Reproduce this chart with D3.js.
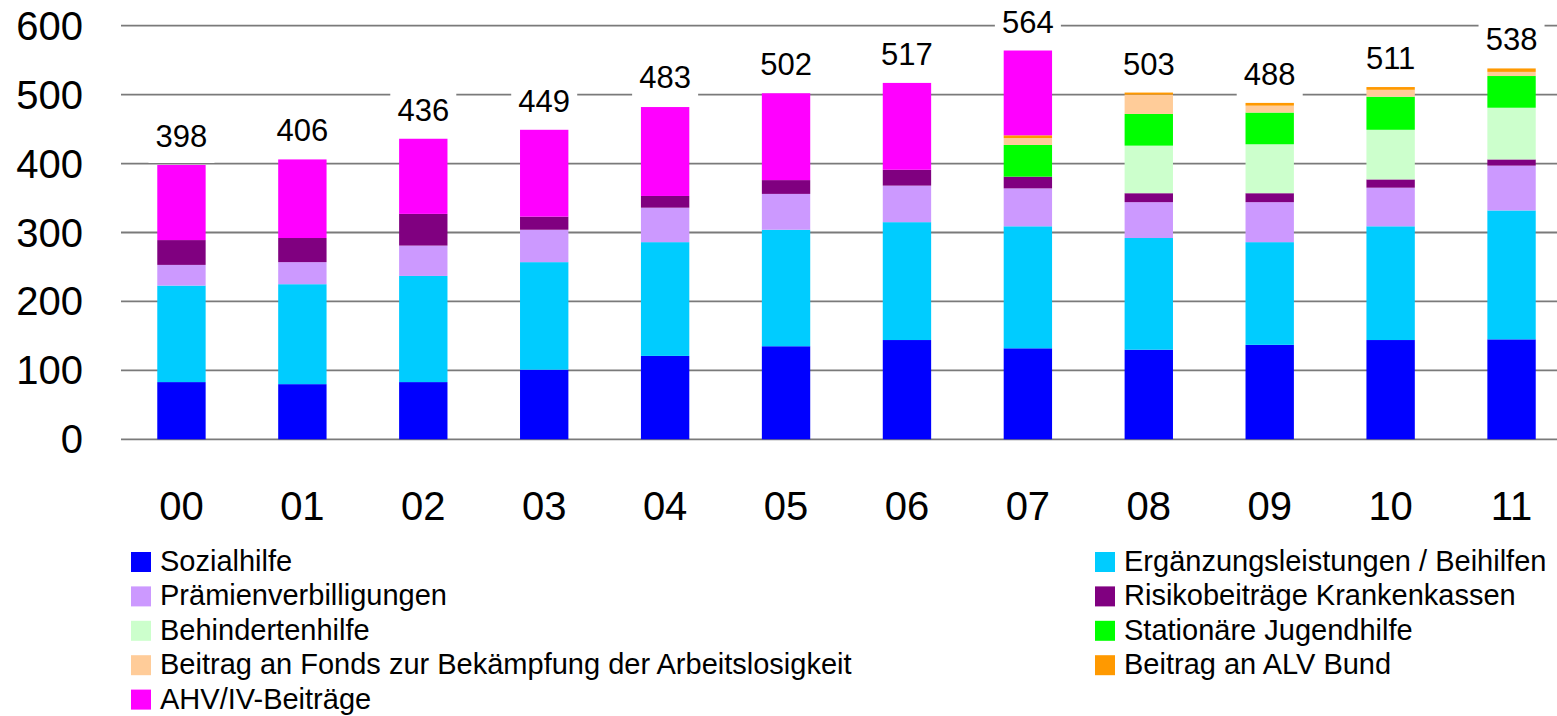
<!DOCTYPE html>
<html>
<head>
<meta charset="utf-8">
<script src="https://cdn.jsdelivr.net/npm/d3@7"></script>
<style>
  body { margin: 0; background: #fff; }
  text { font-family: "Liberation Sans", Arial, sans-serif; }
</style>
</head>
<body>
<script>
// Data
const years = ["00", "01", "02", "03", "04", "05", "06", "07", "08", "09", "10", "11"];
const seriesNames = [
  "Sozialhilfe",
  "Ergänzungsleistungen / Beihilfen",
  "Prämienverbilligungen",
  "Risikobeiträge Krankenkassen",
  "Behindertenhilfe",
  "Stationäre Jugendhilfe",
  "Beitrag an Fonds zur Bekämpfung der Arbeitslosigkeit",
  "Beitrag an ALV Bund",
  "AHV/IV-Beiträge"
];
const sozialhilfe   = [83, 80, 83, 101, 121, 135, 144, 132, 130, 137, 144, 145];
const ergaenzung    = [140, 145, 154, 156, 165, 169, 171, 177, 162, 149, 165, 187];
const praemien      = [30, 32, 44, 47, 50, 52, 53, 55, 52, 58, 56, 65];
const risiko        = [36, 35, 46, 19, 17, 20, 23, 17, 13, 13, 12, 9];
const behinderten   = [0, 0, 0, 0, 0, 0, 0, 0, 69, 71, 72, 75];
const jugendhilfe   = [0, 0, 0, 0, 0, 0, 0, 46, 46, 46, 48, 46];
const fonds         = [0, 0, 0, 0, 0, 0, 0, 10, 28, 10, 10, 6];
const alv           = [0, 0, 0, 0, 0, 0, 0, 4, 3, 4, 4, 5];
const ahv           = [109, 114, 109, 126, 129, 126, 126, 123, 0, 0, 0, 0];
const totals        = [398, 406, 436, 449, 483, 502, 517, 564, 503, 488, 511, 538];
const yTicks        = [0, 100, 200, 300, 400, 500, 600];

const colors = ["#0000ff", "#00ccff", "#cc99ff", "#800080", "#ccffcc", "#00ff00", "#ffcc99", "#ff9900", "#ff00ff"];
const seriesValues = [sozialhilfe, ergaenzung, praemien, risiko, behinderten, jugendhilfe, fonds, alv, ahv];

const W = 1557, H = 716;
const svg = d3.select("body").append("svg").attr("width", W).attr("height", H);

const table = years.map((y, i) => {
  const row = { year: y };
  seriesNames.forEach((s, k) => row[s] = seriesValues[k][i]);
  return row;
});
const stacked = d3.stack().keys(seriesNames)(table);

// Scales
const x = d3.scaleBand().domain(years).range([121, 1572]).paddingInner(0.6).paddingOuter(0.3);
const y = d3.scaleLinear().domain([0, 600]).range([439.3, 25.7]);

// Gridlines
svg.append("g").selectAll("line").data(yTicks).join("line")
  .attr("x1", 121).attr("x2", W)
  .attr("y1", d => y(d)).attr("y2", d => y(d))
  .attr("stroke", "#7a7a7a").attr("stroke-width", 1.8);

// Y tick labels
svg.append("g").selectAll("text").data(yTicks).join("text")
  .attr("x", 83).attr("y", d => y(d) + 14)
  .attr("text-anchor", "end").attr("font-size", 40).text(d => d);

// Bars
svg.append("g").selectAll("g").data(stacked).join("g")
  .attr("fill", (d, k) => colors[k])
  .selectAll("rect").data(d => d).join("rect")
  .attr("x", d => x(d.data.year))
  .attr("width", x.bandwidth())
  .attr("y", d => y(d[1]))
  .attr("height", d => y(d[0]) - y(d[1]));

// Total labels with white boxes
const lab = svg.append("g").selectAll("g").data(years).join("g")
  .attr("transform", (d, i) => `translate(${x(d) + x.bandwidth() / 2},${y(totals[i]) - 18})`);
lab.append("rect").attr("x", -33).attr("y", -28).attr("width", 66).attr("height", 16 + 28)
  .attr("fill", "#fff");
lab.append("text").attr("text-anchor", "middle").attr("font-size", 31)
  .text((d, i) => totals[i]);

// X labels
svg.append("g").selectAll("text").data(years).join("text")
  .attr("x", d => x(d) + x.bandwidth() / 2).attr("y", 520)
  .attr("text-anchor", "middle").attr("font-size", 40).text(d => d);

// Legend
const legend = svg.append("g").selectAll("g").data(seriesNames).join("g")
  .attr("transform", (d, k) => `translate(${k % 2 === 0 ? 131 : 1095},${552 + Math.floor(k / 2) * 34.4})`);
legend.append("rect").attr("width", 20).attr("height", 20).attr("fill", (d, k) => colors[k]);
legend.append("text").attr("x", 29).attr("y", 19).attr("font-size", 29).text(d => d);
</script>
</body>
</html>
